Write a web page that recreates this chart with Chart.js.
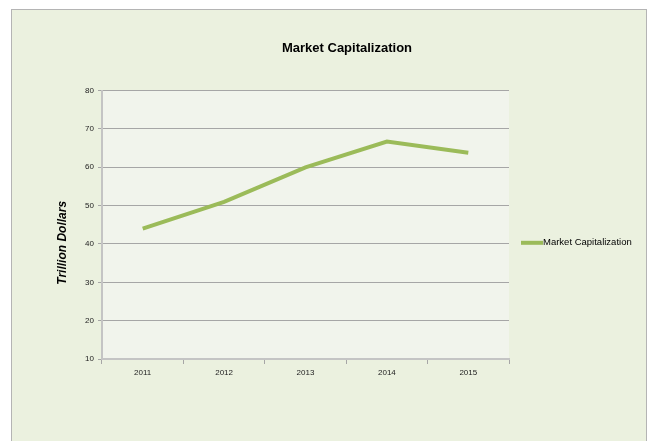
<!DOCTYPE html>
<html>
<head>
<meta charset="utf-8">
<script src="https://cdn.jsdelivr.net/npm/chart.js@4"></script>
<style>
  html, body { margin: 0; padding: 0; background: #fff; }
  #wrap { width: 652px; height: 441px; }
</style>
</head>
<body>
<div id="wrap"><canvas id="mycanvas" width="652" height="441"></canvas></div>
<script>
var years = ['2011', '2012', '2013', '2014', '2015']
var marketCap = [44, 51, 60, 66.7, 63.8]
var seriesName = 'Market Capitalization'
var yTitle = 'Trillion Dollars'

var fontFam = '"Liberation Sans", Arial, sans-serif'

// outer frame, plot background, y title and right-hand legend
var framePlugin = {
    id: 'frame',
    beforeDraw: function(chart) {
        var ctx = chart.ctx
        var a = chart.chartArea
        ctx.save()
        ctx.fillStyle = '#ffffff'
        ctx.fillRect(0, 0, chart.width, chart.height)
        ctx.fillStyle = '#ebf1df'
        ctx.fillRect(11, 9, 636, chart.height)
        ctx.strokeStyle = '#b4b4b4'
        ctx.lineWidth = 1
        ctx.strokeRect(11.5, 9.5, 635, chart.height + 5)
        ctx.fillStyle = '#f1f4ec'
        ctx.fillRect(a.left, a.top, a.right - a.left, a.bottom - a.top)
        ctx.restore()
    },
    afterDraw: function(chart) {
        var ctx = chart.ctx
        var a = chart.chartArea
        var ds = chart.data.datasets[0]
        var mid = a.top + (a.bottom - a.top) / 2 + 18

        ctx.save()
        // y axis title
        ctx.translate(a.left - 39, mid)
        ctx.rotate(-Math.PI / 2)
        ctx.fillStyle = '#000'
        ctx.font = 'italic bold 12px ' + fontFam
        ctx.textAlign = 'center'
        ctx.textBaseline = 'middle'
        ctx.fillText(yTitle, 0, 0)
        ctx.restore()

        // legend
        var x = a.right + 12
        ctx.save()
        ctx.strokeStyle = ds.borderColor
        ctx.lineWidth = 4
        ctx.beginPath()
        ctx.moveTo(x, mid)
        ctx.lineTo(x + 22, mid)
        ctx.stroke()
        ctx.fillStyle = '#000'
        ctx.font = '9.5px ' + fontFam
        ctx.textBaseline = 'middle'
        ctx.fillText(ds.label, x + 22, mid)
        ctx.restore()
    }
}

var context = document.getElementById('mycanvas').getContext('2d')

var chart = new Chart(context, {
    type: 'line',
    data: {
        labels: years,
        datasets: [{
            label: seriesName,
            data: marketCap,
            borderColor: '#9bbb59',
            backgroundColor: '#9bbb59',
            borderWidth: 4,
            pointRadius: 0,
            tension: 0
        }]
    },
    options: {
        responsive: false,
        animation: false,
        layout: { padding: { left: 50, right: 8, top: 15, bottom: 52 } },
        plugins: {
            legend: { display: false },
            tooltip: { enabled: false },
            title: {
                display: true,
                text: 'Market Capitalization',
                color: '#000',
                font: { family: fontFam, size: 13, weight: 'bold' },
                padding: { top: 26, bottom: 34 }
            }
        },
        scales: {
            x: {
                offset: true,
                grid: { display: true, drawOnChartArea: false, drawTicks: true, tickLength: 5, color: '#a6a6a6', offset: true },
                border: { color: '#c4c4c4', width: 2 },
                ticks: { color: '#222', font: { family: fontFam, size: 8 }, padding: 4 },
                afterFit: function(s) { s.height = 30 }
            },
            y: {
                min: 10,
                max: 80,
                ticks: { stepSize: 10, color: '#222', font: { family: fontFam, size: 8 }, padding: 4 },
                grid: { color: '#a6a6a6', tickLength: 4 },
                border: { color: '#c4c4c4', width: 2 },
                afterFit: function(s) { s.width = 52 }
            },
            // empty right-hand space that holds the legend
            side: {
                position: 'right',
                display: true,
                ticks: { display: false },
                grid: { display: false },
                border: { display: false },
                afterFit: function(s) { s.width = 135 }
            }
        }
    },
    plugins: [framePlugin]
})
</script>
</body>
</html>
